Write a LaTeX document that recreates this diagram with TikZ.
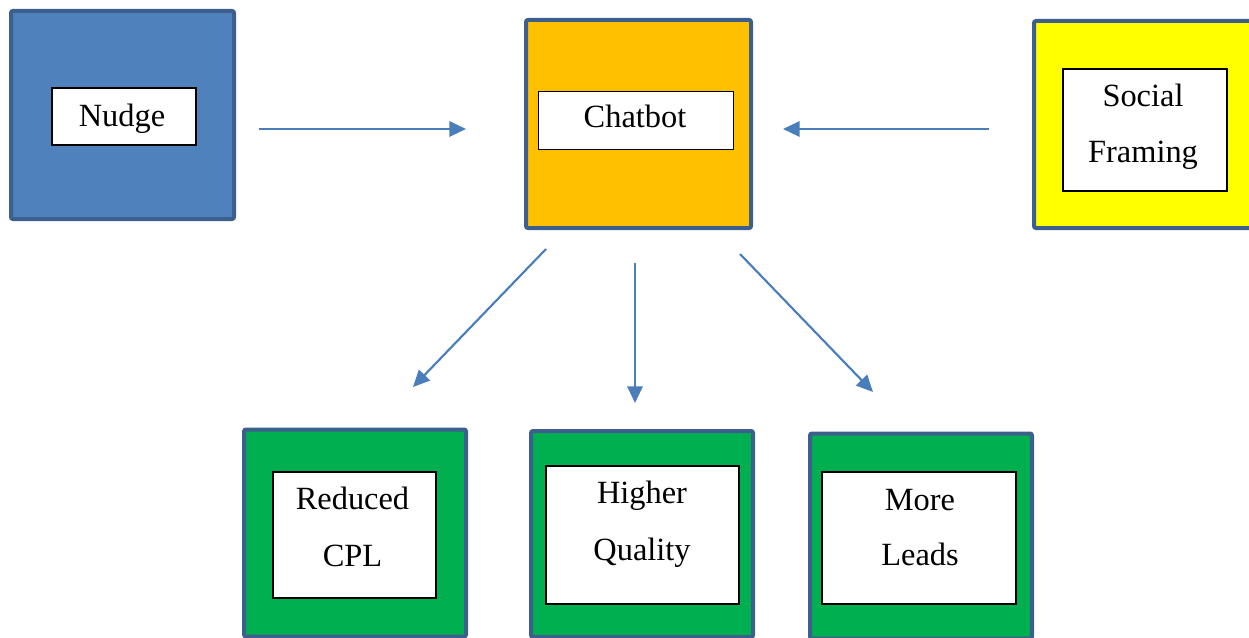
\documentclass[tikz,border=0pt]{standalone}
\usepackage{fontspec}
\setmainfont{Liberation Serif}
\usetikzlibrary{arrows.meta}
\definecolor{frameblue}{HTML}{3C5F8E}
\definecolor{nudgeblue}{HTML}{4F81BD}
\definecolor{chatorange}{HTML}{FFC000}
\definecolor{socialyellow}{HTML}{FFFF00}
\definecolor{outgreen}{HTML}{00B050}
\definecolor{arrowblue}{HTML}{4A7EBB}
\tikzset{
  outerbox/.style={draw=frameblue, line width=3pt, rounded corners=1.5pt, minimum width=#1},
  innerbox/.style={draw=black, fill=white, line width=0.9pt, inner sep=0pt},
  boxtext/.style={anchor=base, inner sep=0pt, font=\fontsize{24.3}{29}\selectfont},
  flowarrow/.style={draw=arrowblue, line width=1.6pt, -{Triangle[length=12.5pt,width=11.5pt]}}
}
\begin{document}
\begin{tikzpicture}[x=0.75pt,y=-0.75pt]
\useasboundingbox (0,0) rectangle (1249,638);
% outer boxes
\node[outerbox=223*0.75pt, minimum height=208*0.75pt, fill=nudgeblue] (nudgeO) at (122.5,115) {};
\node[outerbox=225*0.75pt, minimum height=208*0.75pt, fill=chatorange] (chatO) at (638.5,124) {};
\node[outerbox=222*0.75pt, minimum height=207*0.75pt, fill=socialyellow] (socialO) at (1145,124.5) {};
\node[outerbox=222*0.75pt, minimum height=207*0.75pt, fill=outgreen] (cplO) at (355,533) {};
\node[outerbox=222*0.75pt, minimum height=206*0.75pt, fill=outgreen] (qualO) at (642,534) {};
\node[outerbox=222*0.75pt, minimum height=205*0.75pt, fill=outgreen] (leadsO) at (921,536) {};
% inner boxes
\node[innerbox, minimum width=144*0.75pt, minimum height=57*0.75pt] (nudge) at (124,116.5) {};
\node[innerbox, minimum width=195*0.75pt, minimum height=58*0.75pt] (chat) at (636,120.5) {};
\node[innerbox, minimum width=164*0.75pt, minimum height=122*0.75pt] (social) at (1145,130) {};
\node[innerbox, minimum width=163*0.75pt, minimum height=126*0.75pt] (cpl) at (354.5,535) {};
\node[innerbox, minimum width=193*0.75pt, minimum height=138*0.75pt] (qual) at (642.5,535) {};
\node[innerbox, minimum width=194*0.75pt, minimum height=132*0.75pt] (leads) at (919,538) {};
% texts
\node[boxtext] (nudgeT) at (122,127) {Nudge};
\node[boxtext] (chatT) at (635,128) {Chatbot};
\node[boxtext] (socialT1) at (1143,107) {Social};
\node[boxtext] (socialT2) at (1143,163) {Framing};
\node[boxtext] (cplT1) at (352.5,509) {Reduced};
\node[boxtext] (cplT2) at (352.5,566) {CPL};
\node[boxtext] (qualT1) at (642,503) {Higher};
\node[boxtext] (qualT2) at (642,560) {Quality};
\node[boxtext] (leadsT1) at (920,510) {More};
\node[boxtext] (leadsT2) at (920,565) {Leads};
% arrow end points
\coordinate (a1s) at (259,129);
\coordinate (a1e) at (466,129);
\coordinate (a2s) at (989,129);
\coordinate (a2e) at (783,129);
\coordinate (a3s) at (546,249);
\coordinate (a3e) at (413,387);
\coordinate (a4s) at (635,263);
\coordinate (a4e) at (635,403);
\coordinate (a5s) at (740,254);
\coordinate (a5e) at (873,392);
\draw[flowarrow] (a1s) -- (a1e);
\draw[flowarrow] (a2s) -- (a2e);
\draw[flowarrow] (a3s) -- (a3e);
\draw[flowarrow] (a4s) -- (a4e);
\draw[flowarrow] (a5s) -- (a5e);
\end{tikzpicture}
\end{document}
